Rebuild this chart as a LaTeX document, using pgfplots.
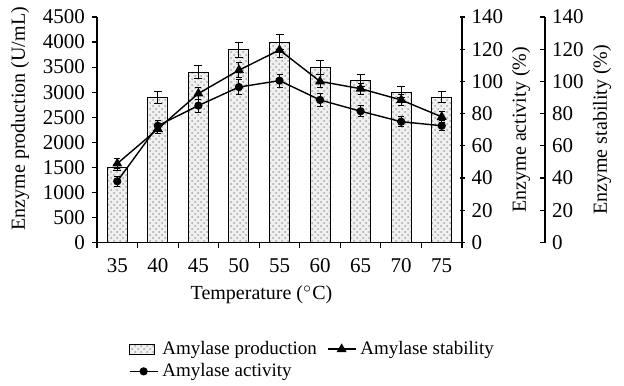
\documentclass[border=0pt]{standalone}
\usepackage{fontspec}
\setmainfont{Liberation Serif}
\usepackage{pgfplots}
\usepackage{pgfplotstable}
\pgfplotsset{compat=1.18}
\usetikzlibrary{patterns}

\pgfplotstableread{
x prod perr act aerr stab serr
0 1500 60 38 3 49 3
1 2900 120 72.5 3 70.5 3
2 3400 130 85 4 92.5 4
3 3850 150 96.5 4.5 107 4.5
4 4000 150 100.5 4 119.5 4.5
5 3500 140 88.5 4 100 4
6 3230 125 81.5 3.5 95.5 3.5
7 3000 115 75 3 88.5 3.5
8 2900 115 72.5 3 78 3.5
}\data

\pgfplotsset{
  common/.style={
    scale only axis, width=182.5pt, height=112.75pt,
    xmin=-0.5, xmax=8.5,
    anchor=south west,
    /pgf/number format/assume math mode=true,
    /pgf/number format/set thousands separator={},
    tick label style={font=\fontsize{10.5}{12}\selectfont},
    label style={font=\fontsize{10.5}{12}\selectfont},
    axis line style={line width=0.7pt},
    major tick length=2.5pt,
    every tick/.style={black, line width=0.6pt},
  },
  boxlegend/.style={legend image code/.code={\draw[##1] (0pt,-2.5pt) rectangle (12.5pt,2.5pt);}},
  shortline/.style={legend image code/.code={\draw[mark repeat=2, mark phase=2, ##1] plot coordinates {(0pt,0pt) (7pt,0pt) (14pt,0pt)};}},
}

\begin{document}
\begin{tikzpicture}
\useasboundingbox (-48.5pt,-71.25pt) rectangle (263.5pt,121.25pt);
% Main axis: production
\begin{axis}[common, at={(0,0)},
  ymin=0, ymax=4500, ytick={0,500,...,4500},
  axis y line*=left, axis x line*=bottom,
  tick align=outside,
  xtick={-0.5,0.5,...,8.5},
  x tick label as interval,
  xticklabels={35,40,45,50,55,60,65,70,75},
  xticklabel style={yshift=-2pt},
  ylabel={Enzyme production (U/mL)},
  every axis y label/.style={at={(rel axis cs:0,0.5)}, xshift=-38.5pt, yshift=5.5pt, rotate=90, anchor=center},
  xlabel={Temperature ($^{\circ}$C)},
  every axis x label/.style={at={(rel axis cs:0.5,0)}, yshift=-26pt, xshift=-9pt, anchor=center},
]
\addplot[ybar, bar width=10pt, draw=black, line width=0.55pt,
  fill=gray!12, postaction={pattern=crosshatch dots, pattern color=gray!70},
  error bars/.cd, y dir=both, y explicit,
  error bar style={line width=0.5pt, solid},
  error mark options={rotate=90, mark size=2pt, line width=0.5pt}]
  table[x=x, y=prod, y error=perr] {\data};
\end{axis}
% Second axis: activity (and stability, same scale)
\begin{axis}[common, at={(0,0)},
  ymin=0, ymax=140, ytick={0,20,...,140},
  axis y line*=right, hide x axis,
  tick align=center,
  ylabel={Enzyme activity (\%)},
  every axis y label/.style={at={(rel axis cs:1,0.5)}, xshift=29.5pt, rotate=90, anchor=center},
  legend style={at={(0.07,-0.40)}, anchor=north west, draw=none, fill=none,
    font=\fontsize{9.5}{11}\selectfont, legend columns=2, row sep=-1pt,
    /tikz/every even column/.append style={column sep=3pt}},
  legend cell align=left,
  shortline,
]
\addlegendimage{boxlegend, draw=black, line width=0.5pt, fill=gray!12, postaction={pattern=crosshatch dots, pattern color=gray!70}}
\addlegendentry{Amylase production}
\addplot[black, line width=0.7pt, mark=triangle*, mark size=2.2pt,
  error bars/.cd, y dir=both, y explicit,
  error bar style={line width=0.5pt, solid},
  error mark options={rotate=90, mark size=1.5pt, line width=0.5pt}]
  table[x=x, y=stab, y error=serr] {\data};
\addlegendentry{Amylase stability}
\addplot[black, line width=0.7pt, mark=*, mark size=1.7pt,
  error bars/.cd, y dir=both, y explicit,
  error bar style={line width=0.5pt, solid},
  error mark options={rotate=90, mark size=1.5pt, line width=0.5pt}]
  table[x=x, y=act, y error=aerr] {\data};
\addlegendentry{Amylase activity}
\end{axis}
% Third axis: stability scale
\begin{axis}[common, at={(41.5pt,0)},
  ymin=0, ymax=140, ytick={0,20,...,140},
  axis y line*=right, hide x axis,
  tick align=inside,
  ylabel={Enzyme stability (\%)},
  every axis y label/.style={at={(rel axis cs:1,0.5)}, xshift=28.5pt, rotate=90, anchor=center},
]
\end{axis}
\end{tikzpicture}
\end{document}
